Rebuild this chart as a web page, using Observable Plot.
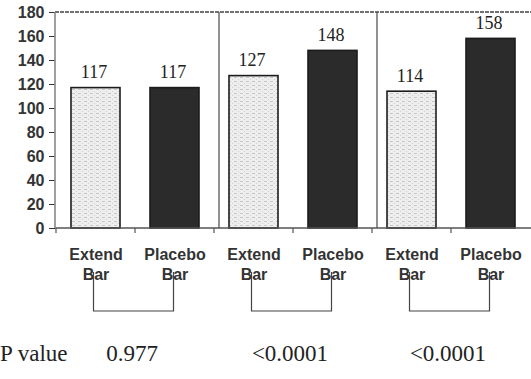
<!DOCTYPE html>
<html><head><meta charset="utf-8">
<script src="https://cdn.jsdelivr.net/npm/d3@7"></script>
<script src="https://cdn.jsdelivr.net/npm/@observablehq/plot@0.6"></script>
<style>body{margin:0;background:#fff} svg{display:block}</style>
</head><body><div id="chart"></div>
<script>
const groups = [1, 2, 3];
const treatments = ["Extend Bar", "Placebo Bar"];
const extendValues = [117, 127, 114];
const placeboValues = [117, 148, 158];
const yTicks = [0, 20, 40, 60, 80, 100, 120, 140, 160, 180];
const pLabel = "P value";
const pValues = ["0.977", "<0.0001", "<0.0001"];

const data = [];
groups.forEach((g, i) => {
  data.push({id: `E${g}`, group: g, treatment: treatments[0], value: extendValues[i]});
  data.push({id: `P${g}`, group: g, treatment: treatments[1], value: placeboValues[i]});
});
const ids = data.map(d => d.id);
const labelOf = Object.fromEntries(data.map(d => [d.id, d.treatment.replace(" ", "\n")]));

const serif = "'Liberation Serif', 'Times New Roman', serif";
const sans = "'Liberation Sans', Arial, sans-serif";

const plot = Plot.plot({
  width: 531, height: 379,
  marginTop: 12, marginBottom: 151, marginLeft: 55, marginRight: 0,
  style: {fontFamily: sans, background: "#fff", color: "#333", overflow: "visible"},
  x: {domain: ids, padding: 0},
  y: {domain: [0, 180]},
  color: {domain: treatments, range: ["url(#stipple)", "#2b2b2b"]},
  marks: [
    Plot.barY(data, {x: "id", y: "value", fill: "treatment", stroke: "#1c1c1c", strokeWidth: 1.6, insetLeft: 15, insetRight: 15}),
    Plot.text(data, {x: "id", y: "value", text: d => String(d.value), lineAnchor: "bottom", dy: -10, dx: -2,
      fontFamily: serif, fontSize: 18, fill: "#222"}),
    Plot.axisY(yTicks, {tickSize: 6, tickPadding: 5, fontSize: 16, fontWeight: "bold", label: null, color: "#333"}),
    Plot.axisX({tickSize: 0, tickPadding: 17, tickFormat: id => labelOf[id], fontSize: 16, fontWeight: "bold",
      lineHeight: 1.25, label: null, color: "#333"})
  ]
});

const x = plot.scale("x"), y = plot.scale("y");
const svg = d3.select(plot);
const bw = x.bandwidth;
const cx = id => x.apply(id) + bw / 2;
const x0 = x.range[0], x1 = x.range[1];
const yTop = y.apply(d3.max(yTicks)), yBase = y.apply(0);

const defs = svg.insert("defs", ":first-child");
const pat = defs.append("pattern").attr("id", "stipple").attr("patternUnits", "userSpaceOnUse")
  .attr("width", 6).attr("height", 4);
pat.append("rect").attr("width", 6).attr("height", 4).attr("fill", "#eeeeee");
pat.append("rect").attr("x", 0).attr("y", 1).attr("width", 3).attr("height", 1).attr("fill", "#c6c6c6");
pat.append("rect").attr("x", 4).attr("y", 3).attr("width", 1).attr("height", 1).attr("fill", "#d0d0d0");

const g = svg.append("g").attr("fill", "none");
g.append("line").attr("x1", x0).attr("x2", x1).attr("y1", yTop).attr("y2", yTop)
  .attr("stroke", "#444").attr("stroke-width", 1.3).attr("stroke-dasharray", "4,1");
g.append("line").attr("x1", x0).attr("x2", x1).attr("y1", yBase).attr("y2", yBase)
  .attr("stroke", "#555").attr("stroke-width", 1.3);
g.append("line").attr("x1", x0).attr("x2", x0).attr("y1", yTop).attr("y2", yBase)
  .attr("stroke", "#888").attr("stroke-width", 1.6);
ids.forEach(id => {
  const bx = x.apply(id);
  g.append("line").attr("x1", bx).attr("x2", bx).attr("y1", yBase).attr("y2", yBase + 5)
    .attr("stroke", "#555").attr("stroke-width", 1.2);
});
groups.slice(1).forEach(gr => {
  const sx = x.apply(`E${gr}`) + 5;
  g.append("line").attr("x1", sx).attr("x2", sx).attr("y1", yTop).attr("y2", yBase)
    .attr("stroke", "#555").attr("stroke-width", 1.3);
});
groups.forEach((gr, i) => {
  const a = cx(`E${gr}`) - 2, b = cx(`P${gr}`) - 1;
  g.append("path").attr("d", `M${a},${yBase + 44}V${yBase + 83}H${b}V${yBase + 44}`)
    .attr("stroke", "#444").attr("stroke-width", 1.2);
  svg.append("text").attr("x", (x.apply(`E${gr}`) + x.apply(`P${gr}`) + bw) / 2 - 3).attr("y", yBase + 133)
    .attr("text-anchor", "middle").attr("font-family", serif).attr("font-size", 23).attr("fill", "#222")
    .text(pValues[i]);
});
svg.append("text").attr("x", 0).attr("y", yBase + 133).attr("text-anchor", "start")
  .attr("font-family", serif).attr("font-size", 23).attr("fill", "#222").text(pLabel);

document.getElementById("chart").appendChild(plot);
</script>
</body></html>
